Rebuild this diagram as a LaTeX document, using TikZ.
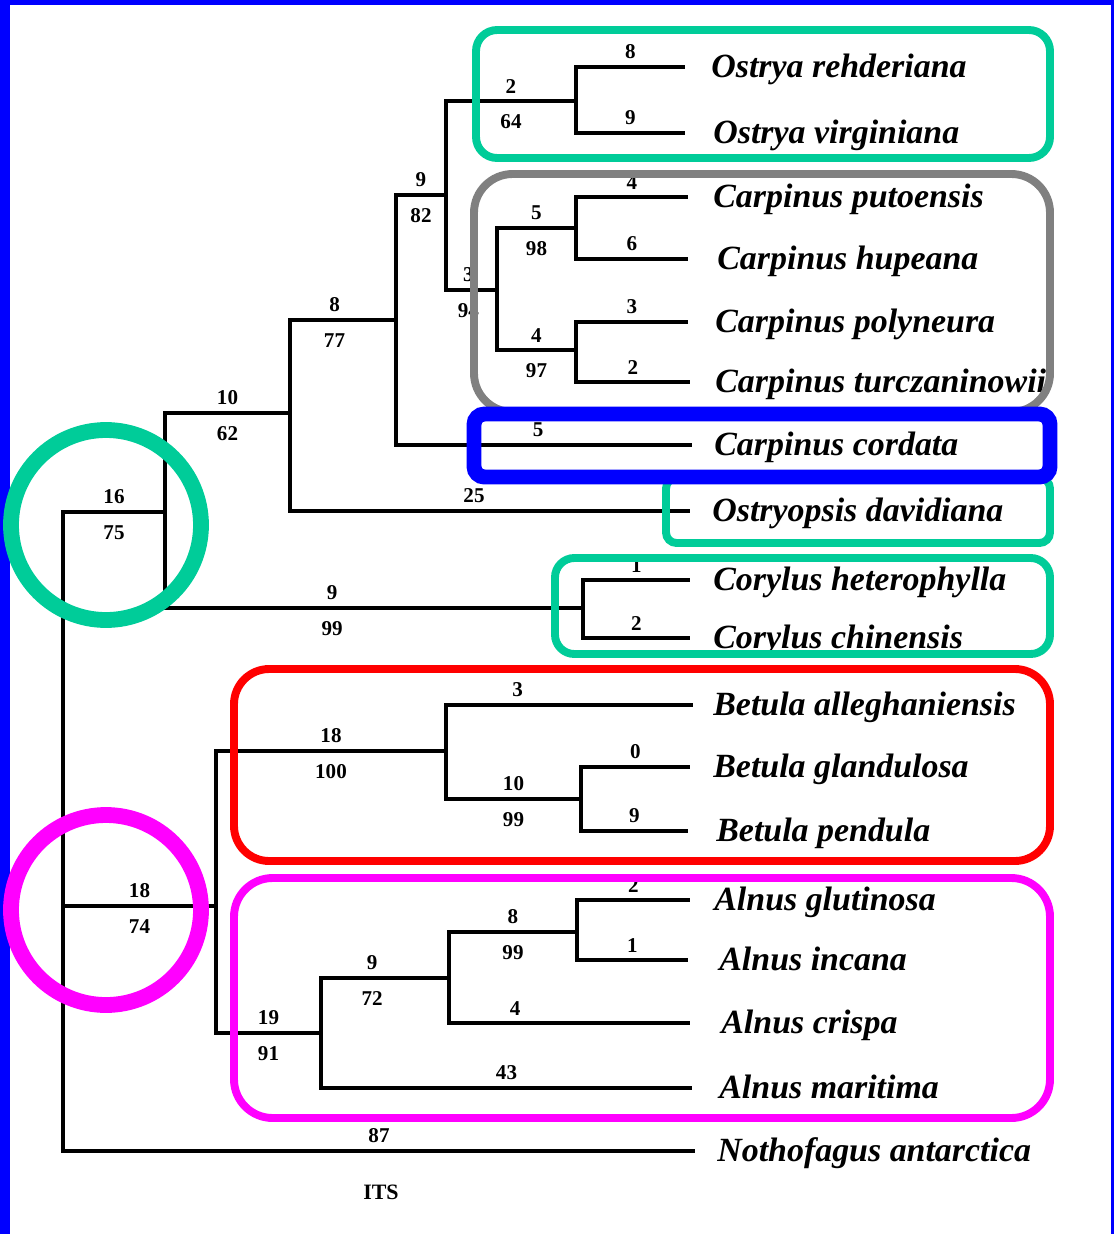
\documentclass[tikz,border=0pt]{standalone}
\usepackage{fontspec}
\setmainfont{Liberation Serif}
\definecolor{tealish}{RGB}{0,204,153}
\definecolor{pinkish}{RGB}{255,0,255}
\tikzset{
  branch/.style={line width=2.1pt},
  num/.style={font=\bfseries\fontsize{12}{12}\selectfont,inner sep=3.5pt},
  taxon/.style={font=\bfseries\itshape\fontsize{19.3}{19.3}\selectfont,anchor=base west,inner sep=0pt},
  clade/.style={line width=4.5pt,rounded corners=#1},
  ring/.style={line width=9pt}
}
% branch with support: pos, parent, child, above, below
\newcommand{\br}[5][0.75]{\draw[branch] (#2) |- (#3) node[pos=#1,above,num] (#3-up) {#4} node[pos=#1,below,num,yshift=-3pt] (#3-dn) {#5};}

\begin{document}
\begin{tikzpicture}[x=0.02cm,y=-0.02cm]
\useasboundingbox (0,0) rectangle (1114,1234);
% frame
\fill[blue] (0,0) rectangle (10,1234);
\fill[blue] (0,0) rectangle (1114,5);
\fill[blue] (1111,0) rectangle (1114,1234);

% inner nodes
\coordinate (root) at (63,906);
\coordinate (nBC) at (165,512);
\coordinate (nCO) at (290,413);
\coordinate (nCC) at (396,320);
\coordinate (nOC) at (446,195);
\coordinate (nOs) at (576,101);
\coordinate (nCa) at (497,290);
\coordinate (nC1) at (576,228);
\coordinate (nC2) at (576,350);
\coordinate (nCy) at (583,608);
\coordinate (nBA) at (216,906);
\coordinate (nBe) at (446,751);
\coordinate (nB2) at (581,799);
\coordinate (nAl) at (321,1033);
\coordinate (nA1) at (449,978);
\coordinate (nA2) at (577,932);
% tips
\coordinate (t1) at (685,67);
\coordinate (t2) at (685,133);
\coordinate (t3) at (688,197);
\coordinate (t4) at (688,259);
\coordinate (t5) at (688,322);
\coordinate (t6) at (690,382);
\coordinate (t7) at (692,445);
\coordinate (t8) at (690,511);
\coordinate (t9) at (690,580);
\coordinate (t10) at (690,638);
\coordinate (t11) at (693,705);
\coordinate (t12) at (690,767);
\coordinate (t13) at (688,831);
\coordinate (t14) at (690,900);
\coordinate (t15) at (688,960);
\coordinate (t16) at (690,1023);
\coordinate (t17) at (692,1088);
\coordinate (t18) at (695,1151);

% tree
\br{root}{nBC}{16}{75}
\br{nBC}{nCO}{10}{62}
\br[0.71]{nCO}{nCC}{8}{77}
\br{nCC}{nOC}{9}{82}
\br{nOC}{nOs}{2}{64}
\br{nOs}{t1}{8}{}
\br{nOs}{t2}{9}{}
\br[0.72]{nOC}{nCa}{3}{94}
\br{nCa}{nC1}{5}{98}
\br{nC1}{t3}{4}{}
\br{nC1}{t4}{6}{}
\br{nCa}{nC2}{4}{97}
\br{nC2}{t5}{3}{}
\br{nC2}{t6}{2}{}
\br[0.74]{nCC}{t7}{5}{}
\br[0.73]{nCO}{t8}{25}{}
\br[0.70]{nBC}{nCy}{9}{99}
\br{nCy}{t9}{1}{}
\br{nCy}{t10}{2}{}
\br{root}{nBA}{18}{74}
\br{nBA}{nBe}{18}{100}
\br[0.645]{nBe}{t11}{3}{}
\br{nBe}{nB2}{10}{99}
\br{nB2}{t12}{0}{}
\br{nB2}{t13}{9}{}
\br{nBA}{nAl}{19}{91}
\br[0.70]{nAl}{nA1}{9}{72}
\br{nA1}{nA2}{8}{99}
\br{nA2}{t14}{2}{}
\br{nA2}{t15}{1}{}
\br[0.637]{nA1}{t16}{4}{}
\br{nAl}{t17}{43}{}
\br{root}{t18}{87}{}

% taxa
\begin{scope}
\clip (0,0) rectangle (1046,1234);
\node[taxon] (s1) at (711,77) {Ostrya rehderiana};
\node[taxon] (s2) at (713,143) {Ostrya virginiana};
\node[taxon] (s3) at (713,207) {Carpinus putoensis};
\node[taxon] (s4) at (717,269) {Carpinus hupeana};
\node[taxon] (s5) at (715,332) {Carpinus polyneura};
\node[taxon] (s6) at (715,392) {Carpinus turczaninowii};
\node[taxon] (s7) at (714,455) {Carpinus cordata};
\node[taxon] (s8) at (712,521) {Ostryopsis davidiana};
\node[taxon] (s9) at (713,590) {Corylus heterophylla};
\node[taxon] (s10) at (713,648) {Corylus chinensis};
\node[taxon] (s11) at (713,715) {Betula alleghaniensis};
\node[taxon] (s12) at (713,777) {Betula glandulosa};
\node[taxon] (s13) at (716,841) {Betula pendula};
\node[taxon] (s14) at (714,910) {Alnus glutinosa};
\node[taxon] (s15) at (719,970) {Alnus incana};
\node[taxon] (s16) at (721,1033) {Alnus crispa};
\node[taxon] (s17) at (719,1098) {Alnus maritima};
\node[taxon] (s18) at (717,1161) {Nothofagus antarctica};
\end{scope}
\node[font=\bfseries\fontsize{12.5}{12.5}\selectfont] (its) at (381,1192) {ITS};

% clades
\draw[clade=22pt,gray] (474,174) rectangle (1050,412);
\draw[clade=12pt,tealish] (476,30) rectangle (1050,158);
\draw[clade=6pt,tealish] (666,478) rectangle (1050,543);
\draw[clade=11pt,tealish] (555,558) rectangle (1050,654);
\draw[clade=20pt,red] (234,669) rectangle (1050,861);
\draw[clade=22pt,pinkish] (234,878) rectangle (1050,1118);
\draw[line width=8.5pt,rounded corners=6pt,blue] (474,414) rectangle (1050,477);
\draw[ring,tealish] (106,525) circle (95);
\draw[ring,pinkish] (106,910) circle (95);
\end{tikzpicture}
\end{document}
